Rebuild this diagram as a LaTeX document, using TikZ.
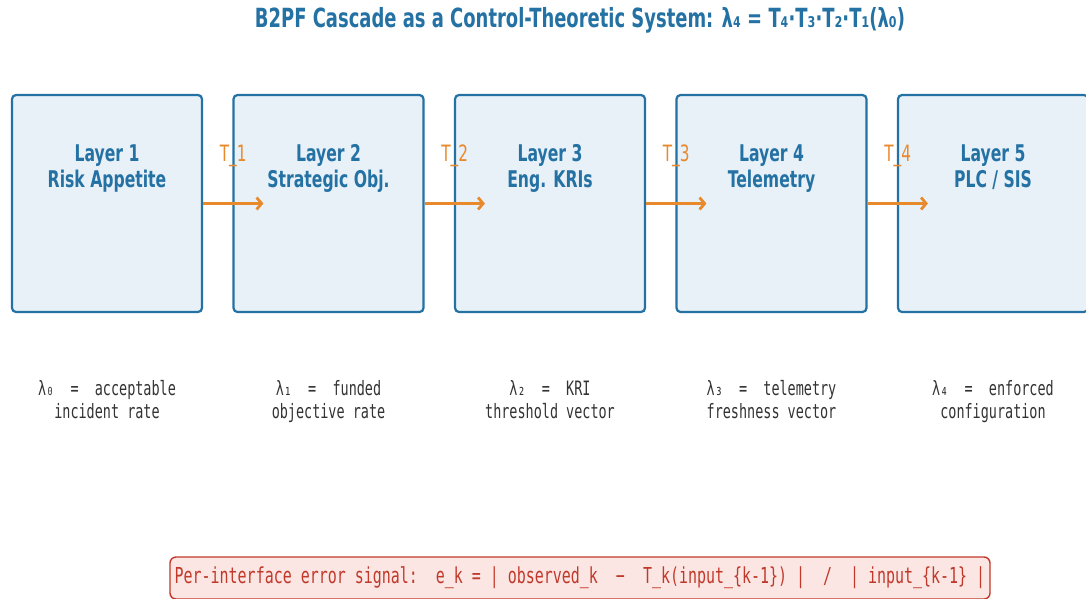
\documentclass[tikz,border=0pt]{standalone}
\usepackage{fontspec}
\setmainfont{DejaVu Sans}[FakeStretch=0.68]
\setmonofont{DejaVu Sans Mono}[FakeStretch=0.68]
\usetikzlibrary{positioning, arrows.meta, calc}
\definecolor{layBrd}{HTML}{2471A3}
\definecolor{layFill}{HTML}{E8F0F8}
\definecolor{xferCol}{HTML}{E8892B}
\definecolor{errBrd}{HTML}{C0392B}
\definecolor{errFill}{HTML}{FCE6E3}
\definecolor{noteTxt}{HTML}{333333}
\tikzset{
  LAY/.style={draw=layBrd, fill=layFill, line width=2.2pt, rounded corners=4pt,
              minimum width=190pt, minimum height=217pt},
  LTXT/.style={font=\fontsize{23}{26}\selectfont\bfseries, text=layBrd, align=center},
  NOTE/.style={font=\ttfamily\fontsize{19.8}{23}\selectfont, text=noteTxt, align=center},
  TLBL/.style={font=\fontsize{22.5}{26}\selectfont, text=xferCol},
  AR/.style={-{Straight Barb[length=5pt, width=12pt]}, line width=2.8pt, xferCol},
  ERR/.style={draw=errBrd, fill=errFill, line width=1.4pt, rounded corners=6pt,
              minimum width=820pt, minimum height=42pt, text=errBrd,
              font=\ttfamily\fontsize{22}{24}\selectfont},
}
\newcommand{\hflow}[3]{\draw[AR] (#1.east) -- ([xshift=31pt]#2.west)
  node[TLBL, midway, yshift=48pt] {#3};}

\begin{document}
\begin{tikzpicture}[x=1pt, y=1pt, yscale=-1]
\useasboundingbox (0,0) rectangle (1086,598);

\def\yB{203.5}
\def\yT{169.5}
\def\yN{402}

%% title
\node[font=\fontsize{26.4}{28}\selectfont\bfseries, text=layBrd] (TTL) at (580,20.5)
  {B2PF Cascade as a Control-Theoretic System: λ₄ = T₄·T₃·T₂·T₁(λ₀)};

%% the five layers
\node[LAY] (L1) at (107,\yB) {};
\node[LAY] (L2) at (328.5,\yB) {};
\node[LAY] (L3) at (550,\yB) {};
\node[LAY] (L4) at (771.5,\yB) {};
\node[LAY] (L5) at (993,\yB) {};

\node[LTXT] (L1t) at (107,\yT) {\strut Layer 1\\\strut Risk Appetite};
\node[LTXT] (L2t) at (328.5,\yT) {\strut Layer 2\\\strut Strategic Obj.};
\node[LTXT] (L3t) at (550,\yT) {\strut Layer 3\\\strut Eng. KRIs};
\node[LTXT] (L4t) at (771.5,\yT) {\strut Layer 4\\\strut Telemetry};
\node[LTXT] (L5t) at (993,\yT) {\strut Layer 5\\\strut PLC / SIS};

\hflow{L1}{L2}{T\_1}
\hflow{L2}{L3}{T\_2}
\hflow{L3}{L4}{T\_3}
\hflow{L4}{L5}{T\_4}

%% what each interface carries
\node[NOTE] (N0) at (107,\yN) {\strut λ₀~~=~~acceptable\\\strut incident rate};
\node[NOTE] (N1) at (328.5,\yN) {\strut λ₁~~=~~funded\\\strut objective rate};
\node[NOTE] (N2) at (550,\yN) {\strut λ₂~~=~~KRI\\\strut threshold vector};
\node[NOTE] (N3) at (771.5,\yN) {\strut λ₃~~=~~telemetry\\\strut freshness vector};
\node[NOTE] (N4) at (993,\yN) {\strut λ₄~~=~~enforced\\\strut configuration};

%% error signal
\node[ERR] (ERRS) at (580,578)
  {Per-interface error signal:~~e\_k = |~observed\_k~~−~~T\_k(input\_\{k-1\})~|~~/~~|~input\_\{k-1\}~|};

\end{tikzpicture}
\end{document}
